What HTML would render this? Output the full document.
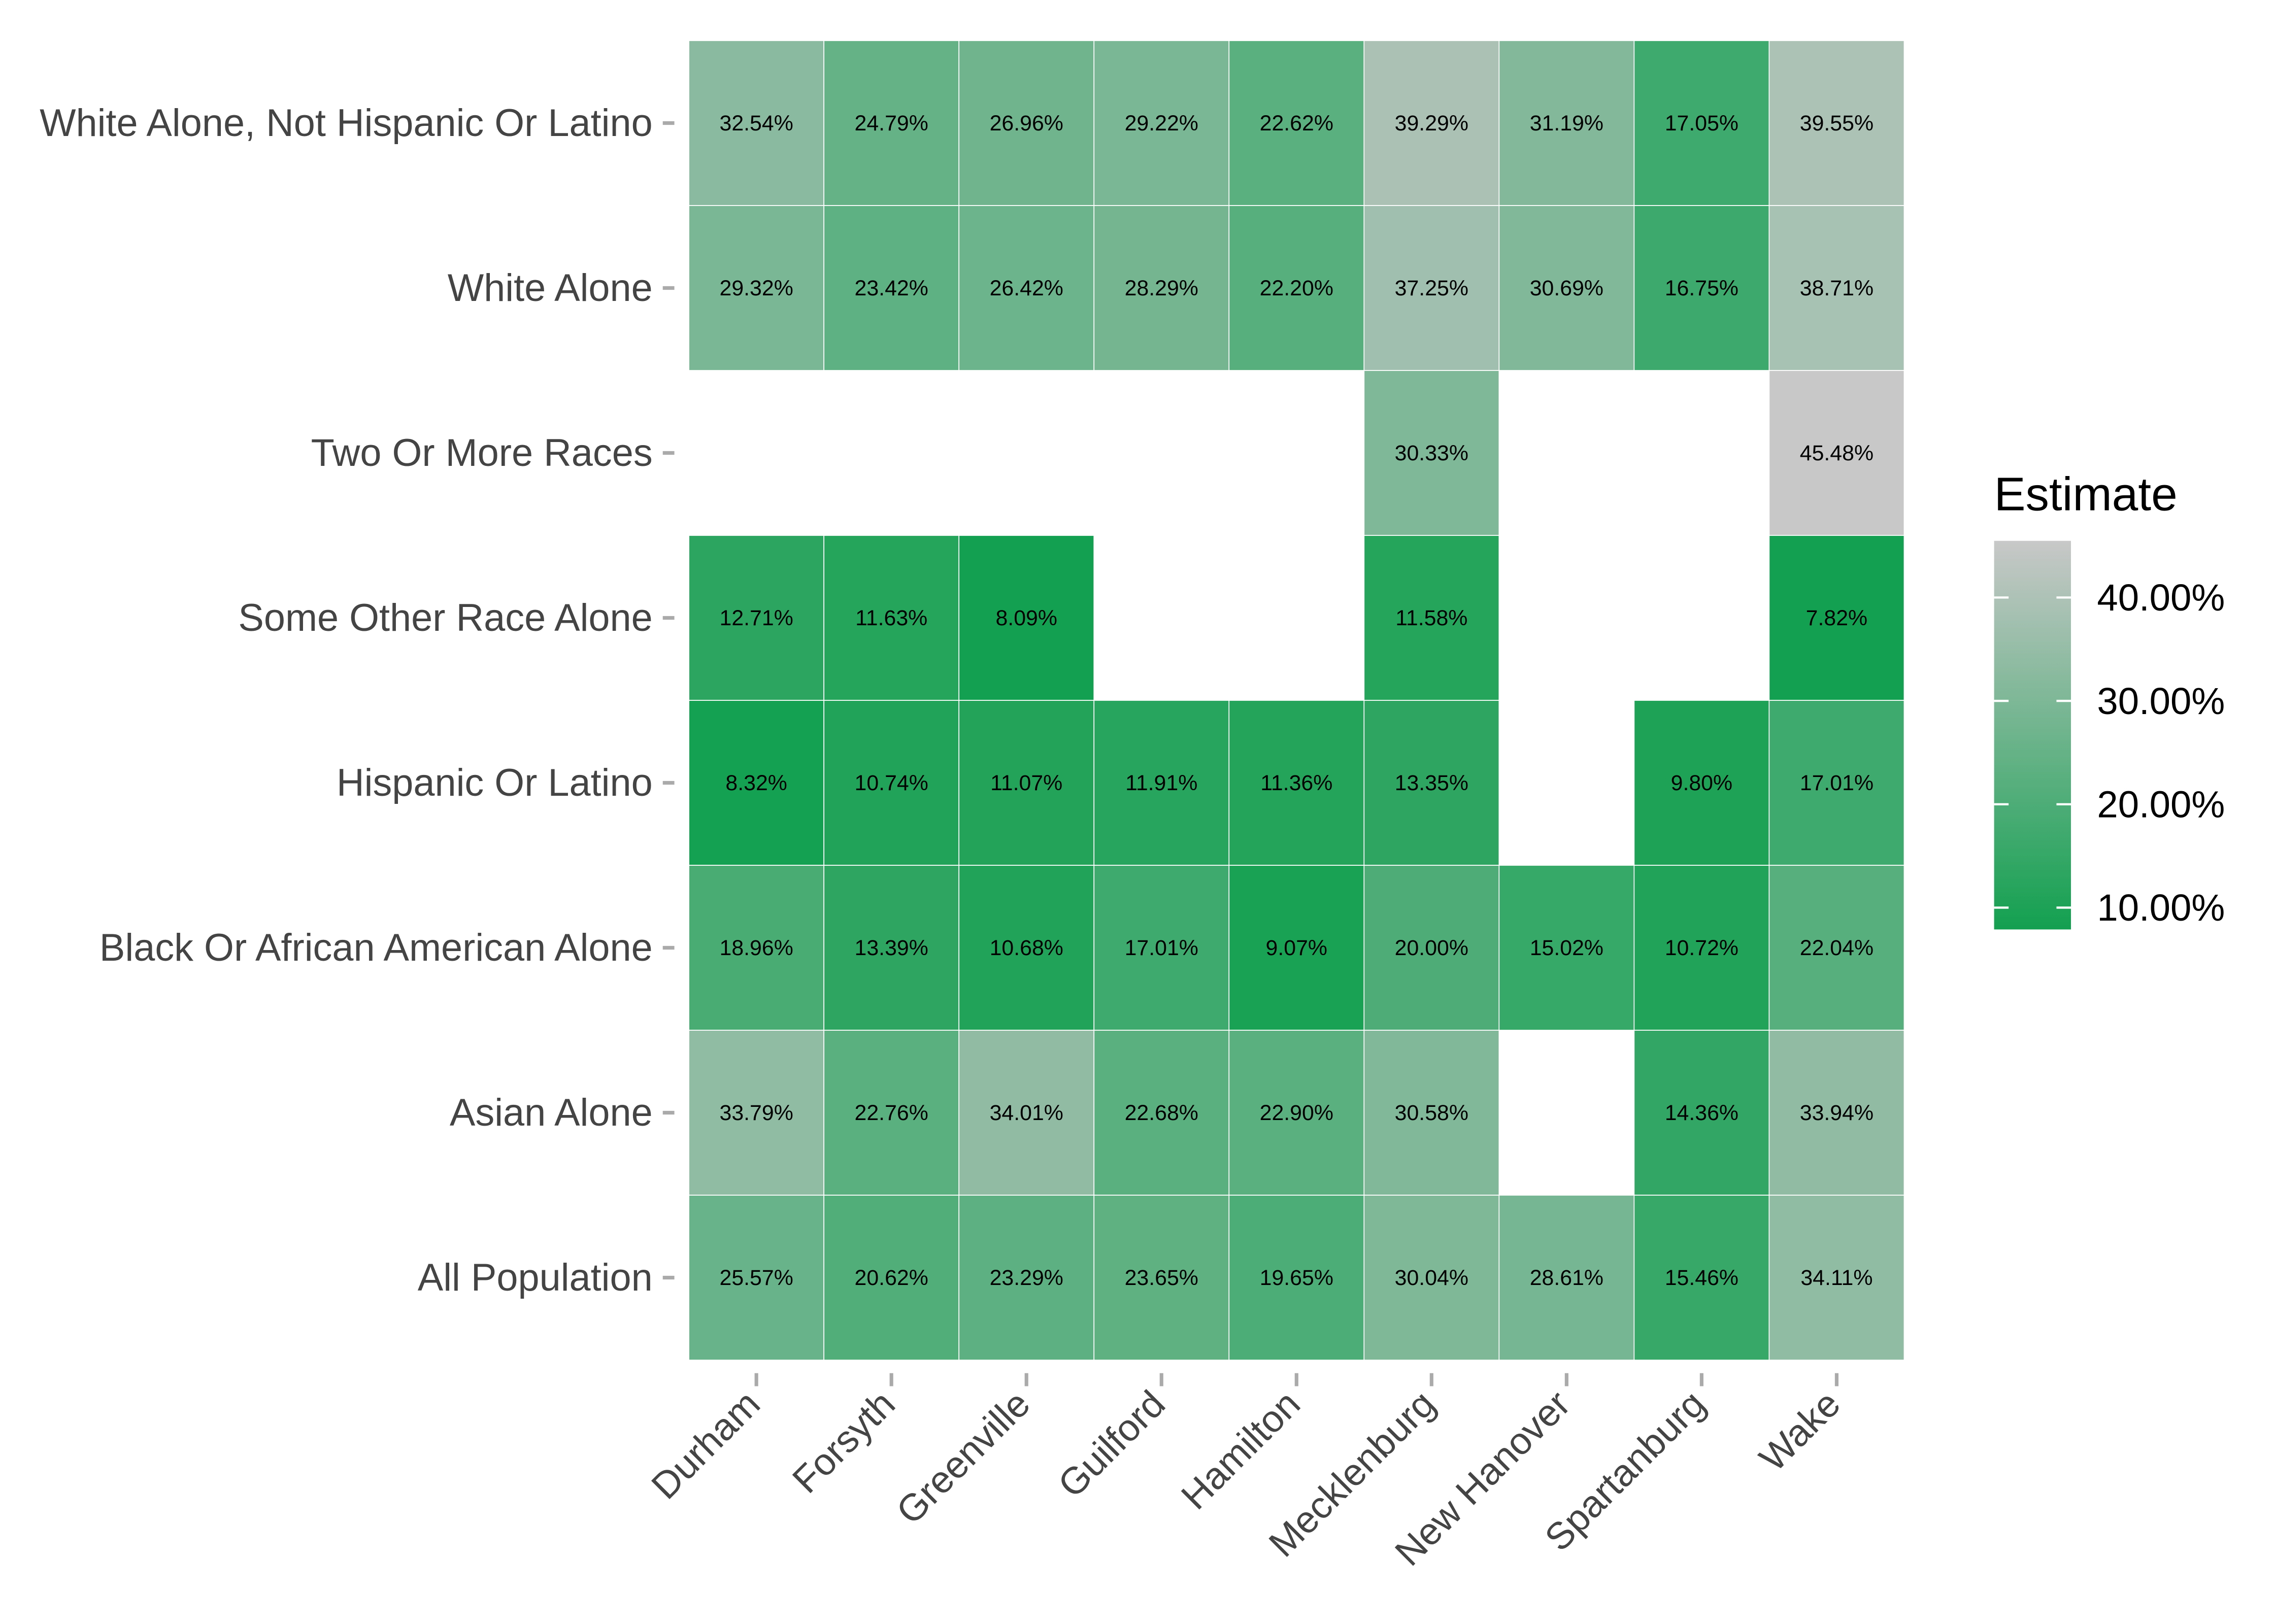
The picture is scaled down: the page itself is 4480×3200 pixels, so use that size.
<!DOCTYPE html>
<html><head><meta charset="utf-8"><style>
html,body{margin:0;padding:0;background:#fff;}
svg{display:block;}
text{font-family:"Liberation Sans",sans-serif;}
</style></head><body>
<svg id="chart" width="4480" height="3200" viewBox="0 0 1568 1120" preserveAspectRatio="none" xmlns="http://www.w3.org/2000/svg">
<g id="cells"></g>
<g id="yaxis"></g>
<g id="xaxis"></g>
<g id="legend">
<text x="1375" y="352" font-size="32.5" fill="#000">Estimate</text>
<defs><linearGradient id="lg" x1="0" y1="1" x2="0" y2="0"><stop offset="0" stop-color="#13a050"/><stop offset="1" stop-color="#c8c8c8"/></linearGradient></defs>
<rect x="1375" y="373" width="53" height="268" fill="url(#lg)"/>
</g>
</svg>
<script>
const counties = ["Durham","Forsyth","Greenville","Guilford","Hamilton","Mecklenburg","New Hanover","Spartanburg","Wake"];
const groups = ["White Alone, Not Hispanic Or Latino","White Alone","Two Or More Races","Some Other Race Alone","Hispanic Or Latino","Black Or African American Alone","Asian Alone","All Population"];
const rowWhiteNH = [32.54,24.79,26.96,29.22,22.62,39.29,31.19,17.05,39.55];
const rowWhite = [29.32,23.42,26.42,28.29,22.20,37.25,30.69,16.75,38.71];
const rowTwo = [null,null,null,null,null,30.33,null,null,45.48];
const rowOther = [12.71,11.63,8.09,null,null,11.58,null,null,7.82];
const rowHisp = [8.32,10.74,11.07,11.91,11.36,13.35,null,9.80,17.01];
const rowBlack = [18.96,13.39,10.68,17.01,9.07,20.00,15.02,10.72,22.04];
const rowAsian = [33.79,22.76,34.01,22.68,22.90,30.58,null,14.36,33.94];
const rowAll = [25.57,20.62,23.29,23.65,19.65,30.04,28.61,15.46,34.11];
const legendTicks = [10,20,30,40];
const rows = [rowWhiteNH,rowWhite,rowTwo,rowOther,rowHisp,rowBlack,rowAsian,rowAll];
const NS="http://www.w3.org/2000/svg";
const L=475,R=1313,T=28,B=938;
const cw=(R-L)/counties.length, ch=(B-T)/groups.length;
const xPos=i=>L+i*cw, yPos=j=>T+j*ch;
const all=rows.flat().filter(v=>v!==null);
const vmin=Math.min(...all), vmax=Math.max(...all);
const lo=[19,160,80], hi=[200,200,200];
function color(v){const t=(v-vmin)/(vmax-vmin);return "rgb("+lo.map((c,k)=>Math.round(c+(hi[k]-c)*t)).join(",")+")";}
function mk(tag,attrs,parent){const e=document.createElementNS(NS,tag);for(const k in attrs)e.setAttribute(k,attrs[k]);parent.appendChild(e);return e;}
const cells=document.getElementById('cells');
rows.forEach((row,j)=>row.forEach((v,i)=>{
 if(v===null)return;
 const r=mk('rect',{x:xPos(i),y:yPos(j),width:cw,height:ch,fill:color(v),stroke:"#fff","stroke-width":0.6},cells);
 
 
 const t=mk('text',{x:xPos(i)+cw/2,y:yPos(j)+ch/2+5,"text-anchor":"middle","font-size":15,fill:"#000"},cells);
 t.textContent=v.toFixed(2)+"%";
 
 
}));
const ya=document.getElementById('yaxis');
groups.forEach((g,j)=>{
 const y=yPos(j)+ch/2;
 const tk=mk('line',{x1:457,x2:465,y1:y,y2:y,stroke:"#aaa","stroke-width":2.5},ya);
 
 
 const t=mk('text',{x:450,y:y+9,"text-anchor":"end","font-size":26.5,fill:"#444"},ya);
 t.textContent=g;
 
 
});
const xa=document.getElementById('xaxis');
counties.forEach((c,i)=>{
 const x=xPos(i)+cw/2;
 const tk=mk('line',{x1:x,x2:x,y1:947,y2:956,stroke:"#aaa","stroke-width":2.5},xa);
 
 
 const ax=x+4, ay=970;
 const t=mk('text',{x:ax,y:ay,"text-anchor":"end","font-size":26,fill:"#444",transform:"rotate(-45 "+ax+" "+ay+")"},xa);
 t.textContent=c;
 
 
});
const lgEl=document.getElementById('legend');
const ly=v=>641.5-(v-vmin)/(vmax-vmin)*268.5;
legendTicks.forEach(v=>{
 const y=ly(v);
 mk('line',{x1:1375,x2:1385,y1:y,y2:y,stroke:"#fff","stroke-width":1.5},lgEl);
 mk('line',{x1:1418,x2:1428,y1:y,y2:y,stroke:"#fff","stroke-width":1.5},lgEl);
 const t=mk('text',{x:1446,y:y+9,"font-size":26,fill:"#000"},lgEl);
 t.textContent=v.toFixed(2)+"%";
 
 
});
</script>
</body></html>
